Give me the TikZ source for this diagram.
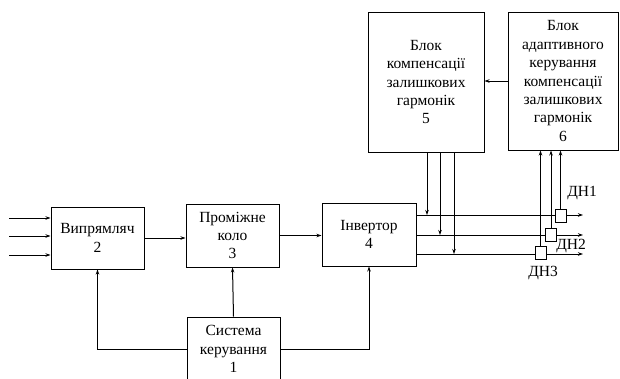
\documentclass[tikz,border=0pt]{standalone}
\usepackage{fontspec}
\setmainfont{Liberation Serif}
\usetikzlibrary{arrows.meta}

\begin{document}
\begin{tikzpicture}[x=1pt,y=-1pt]
\useasboundingbox (0,0) rectangle (620,378);
\begin{scope}[every node/.style={draw,line width=1pt,align=center,inner sep=0pt,font=\fontsize{15.5}{18.4}\selectfont}]
	\node[minimum width=93pt,minimum height=62pt] (vyp) at (97.5,238) {Випрямляч\\2};
	\node[minimum width=93pt,minimum height=63pt] (prom) at (232.5,235.5) {Проміжне\\коло\\3};
	\node[minimum width=93pt,minimum height=64pt] (sys) at (233.5,349) {Система\\керування\\1};
	\node[minimum width=94pt,minimum height=63pt] (inv) at (369,234.5) {Інвертор\\4};
	\node[minimum width=116pt,minimum height=140pt] (b5) at (426,82) {Блок\\компенсації\\залишкових\\гармонік\\5};
	\node[minimum width=110pt,minimum height=138pt] (b6) at (563,81) {Блок\\адаптивного\\керування\\компенсації\\залишкових\\гармонік\\6};
\end{scope}
\coordinate (in1) at (9,218);
\coordinate (in2) at (9,236);
\coordinate (in3) at (9,255);
\coordinate (o1) at (583,215);
\coordinate (o2) at (583,235);
\coordinate (o3) at (583,254);
\coordinate (j1) at (427,215);
\coordinate (j2) at (440,235);
\coordinate (j3) at (454,254);
\begin{scope}[>={Stealth[length=5pt,width=3.5pt]}, every edge/.style={draw=black,line width=1pt}]
	\path [->] (in1) edge (in1 -| vyp.west);
	\path [->] (in2) edge (in2 -| vyp.west);
	\path [->] (in3) edge (in3 -| vyp.west);
	\path [->] (vyp.east) edge (vyp.east -| prom.west);
	\path [->] (prom.east) edge (prom.east -| inv.west);
	\path [->] (sys.north) edge (prom.south);
	\path [->] (b6.west) edge (b6.west -| b5.east);
	\path [->] (inv.east |- o1) edge (o1);
	\path [->] (inv.east |- o2) edge (o2);
	\path [->] (inv.east |- o3) edge (o3);
	\path [->] (b5.south -| j1) edge (j1);
	\path [->] (b5.south -| j2) edge (j2);
	\path [->] (b5.south -| j3) edge (j3);
	\draw [->,line width=1pt] (sys.west) -| (vyp.south);
	\draw [->,line width=1pt] (sys.east) -| (inv.south);
\end{scope}
\begin{scope}[every node/.style={draw,line width=1pt,fill=white,inner sep=0pt,minimum width=11pt,minimum height=13pt}]
	\node (s1) at (560.5,215.5) {};
	\node (s2) at (551,235) {};
	\node (s3) at (540.5,253) {};
\end{scope}
\begin{scope}[>={Stealth[length=5pt,width=3.5pt]}, every edge/.style={draw=black,line width=1pt}]
	\path [->] (s1.north) edge (s1 |- b6.south);
	\path [->] (s2.north) edge (s2 |- b6.south);
	\path [->] (s3.north) edge (s3 |- b6.south);
\end{scope}
\begin{scope}[every node/.style={font=\fontsize{15.5}{18.4}\selectfont}]
	\node (l1) at (582,193) {ДН1};
	\node (l2) at (571,246) {ДН2};
	\node (l3) at (543,273) {ДН3};
\end{scope}
\end{tikzpicture}
\end{document}
